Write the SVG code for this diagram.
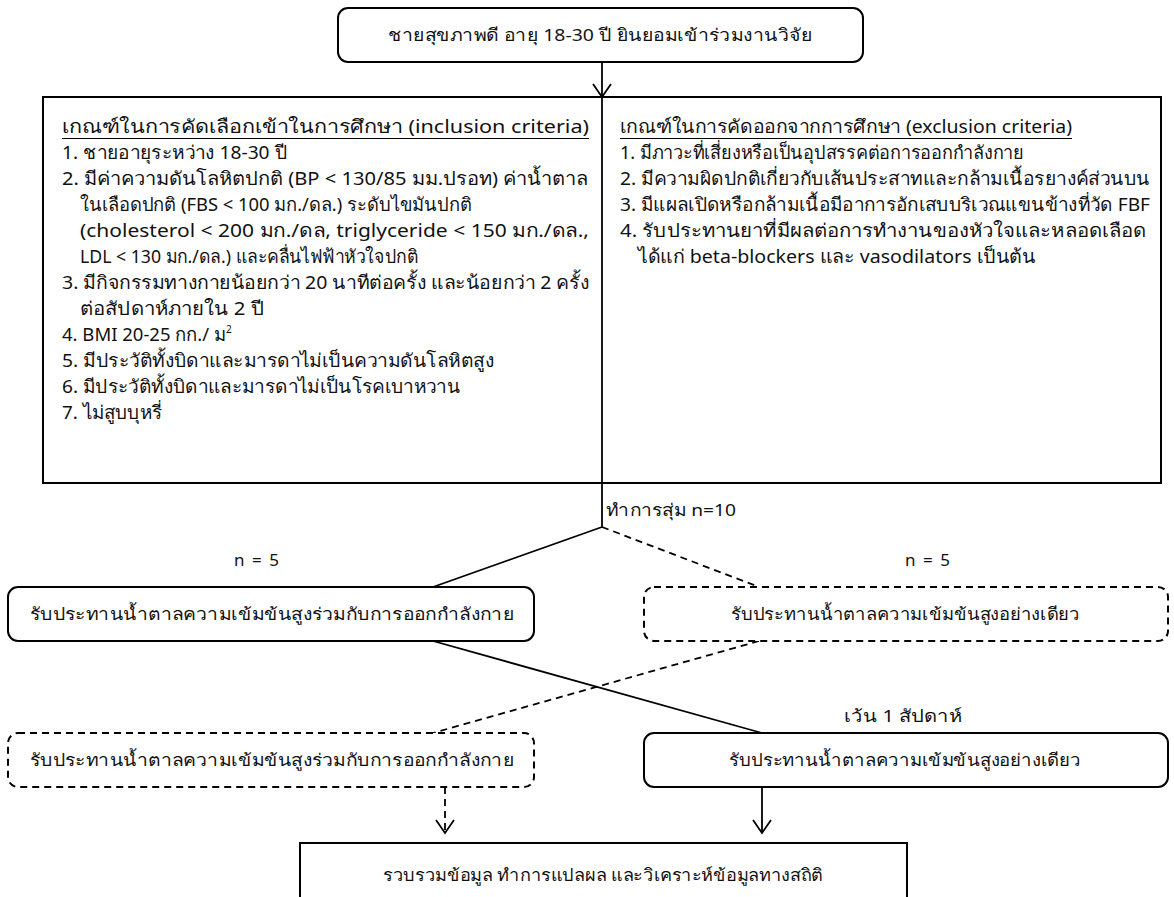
<svg xmlns="http://www.w3.org/2000/svg" width="1174" height="897" viewBox="0 0 1174 897">
<style>
text{font-family:"Noto Sans","DejaVu Sans","Liberation Sans",sans-serif;font-size:17px;fill:#111}
.k{font-size:18.5px}
.c{text-anchor:middle}
.box{fill:#fff;stroke:#000;stroke-width:2}
.dbox{fill:#fff;stroke:#000;stroke-width:2;stroke-dasharray:7 5}
.ln{stroke:#000;stroke-width:1.8;fill:none}
.dl{stroke:#000;stroke-width:1.8;fill:none;stroke-dasharray:7 5}
.ul{stroke:#000;stroke-width:1}
</style>
<rect width="1174" height="897" fill="#fff"/>
<g id="connectors">
<line class="ln" x1="602" y1="62" x2="602" y2="97"/>
<path class="ln" d="M593,84 L602,97 L611,84"/>
<line class="ln" x1="602" y1="97" x2="602" y2="527"/>
<line class="ln" x1="602" y1="527" x2="433" y2="587"/>
<line class="dl" x1="602" y1="527" x2="759" y2="587"/>
<line class="ln" x1="433" y1="641" x2="762" y2="733"/>
<line class="dl" x1="759" y1="641" x2="433" y2="733"/>
<line class="dl" x1="445" y1="787" x2="445" y2="833"/>
<path class="ln" d="M436,820 L445,833 L454,820"/>
<line class="ln" x1="762" y1="787" x2="762" y2="833"/>
<path class="ln" d="M753,820 L762,833 L771,820"/>
<text x="606" y="516" textLength="130" lengthAdjust="spacingAndGlyphs">ทำการสุ่ม n=10</text>
<text x="234" y="566" textLength="45" lengthAdjust="spacing">n = 5</text>
<text x="905" y="566" textLength="45" lengthAdjust="spacing">n = 5</text>
<text x="844" y="722" textLength="118" lengthAdjust="spacingAndGlyphs">เว้น 1 สัปดาห์</text>
</g>
<g id="start">
<rect class="box" x="338" y="8" width="525" height="54" rx="10"/>
<text x="388" y="41" textLength="424" lengthAdjust="spacingAndGlyphs">ชายสุขภาพดี อายุ 18-30 ปี ยินยอมเข้าร่วมงานวิจัย</text>
</g>
<g id="criteria">
<rect class="box" x="43" y="97" width="1118" height="386"/>
<line class="ln" x1="602" y1="97" x2="602" y2="483"/>
<text class="k" x="62" y="133" textLength="527" lengthAdjust="spacingAndGlyphs">เกณฑ์ในการคัดเลือกเข้าในการศึกษา (inclusion criteria)</text>
<line class="ul" x1="62" y1="138.5" x2="589" y2="138.5"/>
<text class="k" x="62" y="159" textLength="225" lengthAdjust="spacingAndGlyphs">1. ชายอายุระหว่าง 18-30 ปี</text>
<text class="k" x="62" y="185" textLength="526" lengthAdjust="spacingAndGlyphs">2. มีค่าความดันโลหิตปกติ (BP &lt; 130/85 มม.ปรอท) ค่าน้ำตาล</text>
<text class="k" x="80" y="211" textLength="392" lengthAdjust="spacingAndGlyphs">ในเลือดปกติ (FBS &lt; 100 มก./ดล.) ระดับไขมันปกติ</text>
<text class="k" x="80" y="237" textLength="509" lengthAdjust="spacingAndGlyphs">(cholesterol &lt; 200 มก./ดล, triglyceride &lt; 150 มก./ดล.,</text>
<text class="k" x="80" y="263" textLength="338" lengthAdjust="spacingAndGlyphs">LDL &lt; 130 มก./ดล.) และคลื่นไฟฟ้าหัวใจปกติ</text>
<text class="k" x="62" y="289" textLength="527" lengthAdjust="spacingAndGlyphs">3. มีกิจกรรมทางกายน้อยกว่า 20 นาทีต่อครั้ง และน้อยกว่า 2 ครั้ง</text>
<text class="k" x="80" y="315" textLength="184" lengthAdjust="spacingAndGlyphs">ต่อสัปดาห์ภายใน 2 ปี</text>
<text class="k" x="62" y="341">4. BMI 20-25 กก./ ม<tspan font-size="10" dy="-8">2</tspan></text>
<text class="k" x="62" y="367" textLength="432" lengthAdjust="spacingAndGlyphs">5. มีประวัติทั้งบิดาและมารดาไม่เป็นความดันโลหิตสูง</text>
<text class="k" x="62" y="393" textLength="398" lengthAdjust="spacingAndGlyphs">6. มีประวัติทั้งบิดาและมารดาไม่เป็นโรคเบาหวาน</text>
<text class="k" x="62" y="419" textLength="100" lengthAdjust="spacingAndGlyphs">7. ไม่สูบบุหรี่</text>
<text class="k" x="620" y="133" textLength="452" lengthAdjust="spacingAndGlyphs">เกณฑ์ในการคัดออกจากการศึกษา (exclusion criteria)</text>
<line class="ul" x1="620" y1="138.5" x2="1072" y2="138.5"/>
<text class="k" x="620" y="159" textLength="404" lengthAdjust="spacingAndGlyphs">1. มีภาวะที่เสี่ยงหรือเป็นอุปสรรคต่อการออกกำลังกาย</text>
<text class="k" x="620" y="185" textLength="530" lengthAdjust="spacingAndGlyphs">2. มีความผิดปกติเกี่ยวกับเส้นประสาทและกล้ามเนื้อรยางค์ส่วนบน</text>
<text class="k" x="620" y="211" textLength="530" lengthAdjust="spacingAndGlyphs">3. มีแผลเปิดหรือกล้ามเนื้อมีอาการอักเสบบริเวณแขนข้างที่วัด FBF</text>
<text class="k" x="620" y="237" textLength="526" lengthAdjust="spacingAndGlyphs">4. รับประทานยาที่มีผลต่อการทำงานของหัวใจและหลอดเลือด</text>
<text class="k" x="638" y="263" textLength="398" lengthAdjust="spacingAndGlyphs">ได้แก่ beta-blockers และ vasodilators เป็นต้น</text>
</g>
<g id="group-a1">
<rect class="box" x="8" y="587" width="526" height="54" rx="10"/>
<text x="30" y="620" textLength="484" lengthAdjust="spacingAndGlyphs">รับประทานน้ำตาลความเข้มข้นสูงร่วมกับการออกกำลังกาย</text>
</g>
<g id="group-b1">
<rect class="dbox" x="644" y="587" width="524" height="54" rx="10"/>
<text x="731" y="620" textLength="349" lengthAdjust="spacingAndGlyphs">รับประทานน้ำตาลความเข้มข้นสูงอย่างเดียว</text>
</g>
<g id="group-a2">
<rect class="dbox" x="8" y="733" width="526" height="54" rx="10"/>
<text x="30" y="766" textLength="484" lengthAdjust="spacingAndGlyphs">รับประทานน้ำตาลความเข้มข้นสูงร่วมกับการออกกำลังกาย</text>
</g>
<g id="group-b2">
<rect class="box" x="644" y="733" width="524" height="54" rx="10"/>
<text x="729" y="766" textLength="352" lengthAdjust="spacingAndGlyphs">รับประทานน้ำตาลความเข้มข้นสูงอย่างเดียว</text>
</g>
<g id="analysis">
<rect class="box" x="300" y="843" width="607" height="70"/>
<text x="383" y="881" textLength="440" lengthAdjust="spacingAndGlyphs">รวบรวมข้อมูล ทำการแปลผล และวิเคราะห์ข้อมูลทางสถิติ</text>
</g>
</svg>
